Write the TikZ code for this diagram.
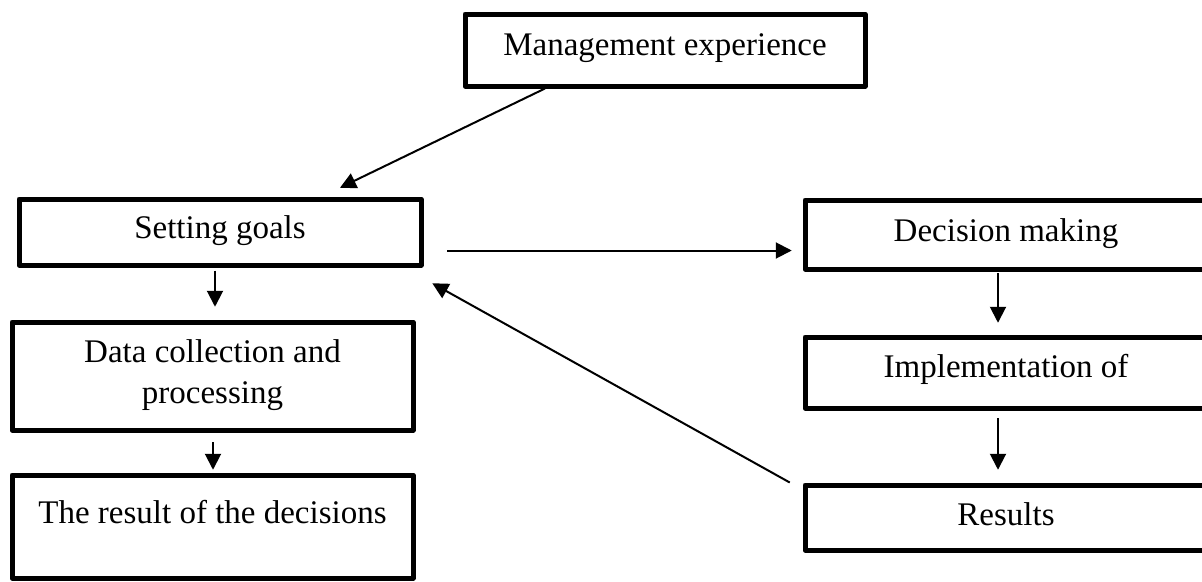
\documentclass[tikz,border=0pt]{standalone}
\usepackage{fontspec}
\setmainfont{Liberation Serif}
\usetikzlibrary{arrows.meta,calc}
\begin{document}
\begin{tikzpicture}[x=1pt,y=-1pt,
  box/.style={draw=black,line width=5pt,line join=round,inner sep=0pt},
  txt/.style={inner sep=0pt,anchor=base,font=\fontsize{33}{40}\selectfont},
  arr/.style={draw=black,line width=2pt,-{Triangle[length=16pt,width=16pt]}}]
\useasboundingbox (0,0) rectangle (1202,581);
\clip (0,0) rectangle (1202,581);
\fill[white] (0,0) rectangle (1202,581);

% boxes
\node[box,minimum width=400pt,minimum height=72pt] (me) at (665,50) {};
\node[box,minimum width=402pt,minimum height=66pt] (sg) at (220,232) {};
\node[box,minimum width=401pt,minimum height=108pt] (dc) at (212.5,376) {};
\node[box,minimum width=401pt,minimum height=103pt] (rd) at (212.5,526.5) {};
\node[box,minimum width=402pt,minimum height=69pt] (dm) at (1006,234.5) {};
\node[box,minimum width=402pt,minimum height=71pt] (im) at (1006,372.5) {};
\node[box,minimum width=402pt,minimum height=65pt] (rs) at (1006,517.5) {};

% texts
\node[txt] (met) at (665,55) {Management experience};
\node[txt] (sgt) at (220,238) {Setting goals};
\node[txt] (dct1) at (212.5,362.5) {Data collection and};
\node[txt] (dct2) at (212.5,403.5) {processing};
\node[txt] (rdt) at (212.5,523) {The result of the decisions};
\node[txt] (dmt) at (1006,241) {Decision making};
\node[txt] (imt) at (1006,377) {Implementation of};
\node[txt] (rst) at (1006,525) {Results};

% connectors
\draw[arr] ([xshift=-120pt]me.south) -- ([xshift=120pt,yshift=8.75pt]sg.north);
\draw[arr] ([xshift=-5pt,yshift=-3pt]sg.south) -- ([xshift=2.5pt,yshift=12.75pt]dc.north);
\draw[arr] ([xshift=0.5pt,yshift=-9.75pt]dc.south) -- ([xshift=0.5pt,yshift=2.75pt]rd.north);
\draw[arr] ([xshift=23.75pt,yshift=-18.5pt]sg.east) -- ([xshift=-10.75pt,yshift=-16pt]dm.west);
\draw[arr] ([xshift=-8pt,yshift=-1.75pt]dm.south) -- ([xshift=-8pt,yshift=11.75pt]im.north);
\draw[arr] ([xshift=-8pt,yshift=-7.75pt]im.south) -- ([xshift=-8pt,yshift=12.75pt]rs.north);
\draw[arr] ([xshift=-12.75pt]rs.north west) -- ([xshift=8.75pt,yshift=-15.75pt]sg.south east);
\end{tikzpicture}
\end{document}
